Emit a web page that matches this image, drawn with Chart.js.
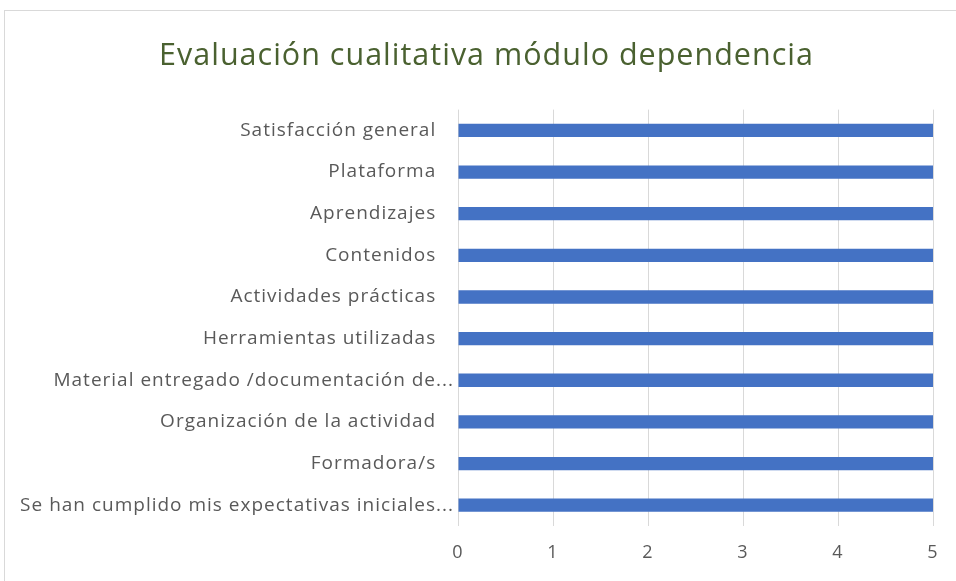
<!DOCTYPE html>
<html>
<head>
<meta charset="utf-8">
<script src="https://cdn.jsdelivr.net/npm/chart.js@4/dist/chart.umd.min.js"></script>
<style>
  html, body { margin: 0; padding: 0; background: #fff; }
  #wrap { position: relative; width: 956px; height: 581px; overflow: hidden; }
  #frame { position: absolute; left: 4px; top: 10px; width: 1000px; height: 700px; border: 1px solid #d9d9d9; box-sizing: border-box; }
  canvas { position: absolute; left: 0; top: 0; }
</style>
</head>
<body>
<div id="wrap">
  <div id="frame"></div>
  <canvas id="c" width="956" height="581"></canvas>
</div>
<script>
const titleText = "Evaluación cualitativa módulo dependencia";
const categories = [
  "Satisfacción general   ",
  "Plataforma   ",
  "Aprendizajes   ",
  "Contenidos   ",
  "Actividades prácticas   ",
  "Herramientas utilizadas   ",
  "Material entregado /documentación de...",
  "Organización de la actividad   ",
  "Formadora/s   ",
  "Se han cumplido mis expectativas iniciales..."
];
const values = [5, 5, 5, 5, 5, 5, 5, 5, 5, 5];
const xTicks = [0, 1, 2, 3, 4, 5];

const fontFamily = "'Open Sans', Lato, sans-serif";

const spacingPlugin = {
  id: 'spacing',
  afterLayout(chart) {
    if (chart.titleBlock) { chart.titleBlock.left += 20; chart.titleBlock.right += 20; }
  },
  beforeDraw(chart) { chart.ctx.letterSpacing = '1px'; }
};

new Chart(document.getElementById('c'), {
  type: 'bar',
  data: {
    labels: categories,
    datasets: [{
      data: values,
      backgroundColor: '#4472C4',
      borderWidth: 0,
      categoryPercentage: 1,
      barPercentage: 0.32
    }]
  },
  plugins: [spacingPlugin],
  options: {
    indexAxis: 'y',
    responsive: false,
    animation: false,
    layout: { padding: { left: 0, right: 23, top: 0, bottom: 0 } },
    plugins: {
      legend: { display: false },
      tooltip: { enabled: false },
      title: {
        display: true,
        text: titleText,
        color: '#4a6130',
        font: { family: fontFamily, size: 30.5, weight: 'normal', lineHeight: 1.2 },
        padding: { top: 38, bottom: 35 }
      }
    },
    scales: {
      x: {
        min: Math.min(...xTicks),
        max: Math.max(...xTicks),
        afterBuildTicks: (s) => { s.ticks = xTicks.map(v => ({ value: v })); },
        grid: { color: '#d9d9d9', lineWidth: 1, drawTicks: false },
        border: { display: false },
        ticks: { color: '#595959', font: { family: fontFamily, size: 18 }, padding: 16 },
        afterFit: (s) => { s.height = 55; }
      },
      y: {
        grid: { display: false },
        border: { display: false },
        ticks: { color: '#595959', font: { family: fontFamily, size: 19 }, padding: -4, autoSkip: false },
        afterFit: (s) => { s.width = 458; }
      }
    }
  }
});
</script>
</body>
</html>
